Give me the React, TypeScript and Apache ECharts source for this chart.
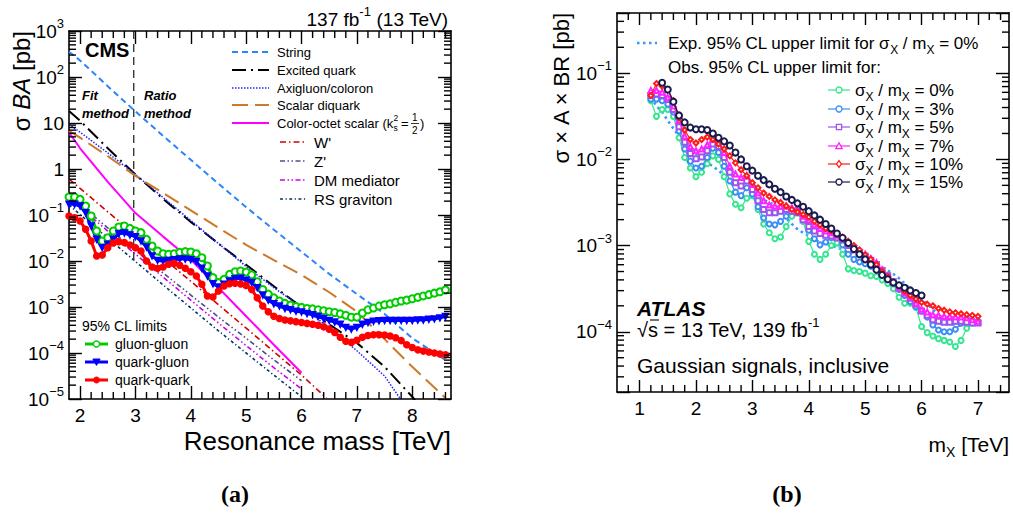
import React, { useEffect, useRef } from "react";
import * as echarts from "echarts";

const FONT = '"Liberation Sans", Arial, Helvetica, sans-serif';
const SERIF = '"Liberation Serif", "DejaVu Serif", serif';

// ---------------- Left panel (CMS) ----------------
const CMS_X_TICKS = [2, 3, 4, 5, 6, 7, 8];
const CMS_MASS = [1.8, 1.9, 2.0, 2.1, 2.2, 2.3, 2.4, 2.5, 2.6, 2.7, 2.8, 2.9, 3.0, 3.1, 3.2, 3.3, 3.4, 3.5, 3.6, 3.7, 3.8, 3.9, 4.0, 4.1, 4.2, 4.3, 4.4, 4.5, 4.6, 4.7, 4.8, 4.9, 5.0, 5.1, 5.2, 5.3, 5.4, 5.5, 5.6, 5.7, 5.8, 5.9, 6.0, 6.1, 6.2, 6.3, 6.4, 6.5, 6.6, 6.7, 6.8, 6.9, 7.0, 7.1, 7.2, 7.3, 7.4, 7.5, 7.6, 7.7, 7.8, 7.9, 8.0, 8.1, 8.2, 8.3, 8.4, 8.5, 8.6];
const GLUON_GLUON = [0.246, 0.246, 0.219, 0.157, 0.0951, 0.0449, 0.0272, 0.0321, 0.0449, 0.0548, 0.0577, 0.0513, 0.0449, 0.0413, 0.0296, 0.0212, 0.0165, 0.0144, 0.014, 0.0144, 0.0154, 0.016, 0.0157, 0.0144, 0.0118, 0.00778, 0.00435, 0.00338, 0.00399, 0.00513, 0.00586, 0.00607, 0.00575, 0.005, 0.00355, 0.0024, 0.00191, 0.00158, 0.00135, 0.0012, 0.0011, 0.00102, 0.00098, 0.00093, 0.00091, 0.00087, 0.00083, 0.00079, 0.00076, 0.00071, 0.00066, 0.0006, 0.0006, 0.00074, 0.00087, 0.00095, 0.00105, 0.00112, 0.00117, 0.00126, 0.00135, 0.00141, 0.00151, 0.00162, 0.00174, 0.00186, 0.002, 0.00214, 0.00234];
const QUARK_GLUON = [0.171, 0.171, 0.157, 0.112, 0.0577, 0.0296, 0.0195, 0.023, 0.0296, 0.0393, 0.0406, 0.0367, 0.0338, 0.0272, 0.0201, 0.0129, 0.0103, 0.01, 0.0102, 0.0107, 0.011, 0.011, 0.0107, 0.0097, 0.00693, 0.00472, 0.00321, 0.00272, 0.00311, 0.00367, 0.00413, 0.0042, 0.0038, 0.00339, 0.00263, 0.00182, 0.00141, 0.00117, 0.00105, 0.00093, 0.00087, 0.00081, 0.00078, 0.00072, 0.00068, 0.00062, 0.00056, 0.00051, 0.00047, 0.00042, 0.00036, 0.00033, 0.00036, 0.00042, 0.00046, 0.00049, 0.0005, 0.00051, 0.00051, 0.00051, 0.00051, 0.00051, 0.00051, 0.00052, 0.00052, 0.00054, 0.00055, 0.00058, 0.00062];
const QUARK_QUARK = [0.0951, 0.0875, 0.0741, 0.0488, 0.0272, 0.0129, 0.0135, 0.0195, 0.0246, 0.0263, 0.0251, 0.0223, 0.0195, 0.0165, 0.01, 0.00741, 0.00693, 0.00741, 0.00847, 0.00889, 0.00805, 0.00693, 0.00586, 0.00472, 0.00311, 0.00173, 0.00165, 0.00223, 0.00286, 0.00321, 0.00327, 0.00316, 0.00295, 0.0024, 0.00158, 0.00105, 0.00079, 0.00063, 0.00056, 0.00052, 0.0005, 0.00048, 0.00046, 0.00044, 0.00042, 0.0004, 0.00037, 0.00033, 0.00028, 0.00022, 0.00018, 0.00017, 0.00019, 0.00022, 0.00024, 0.00025, 0.00025, 0.000245, 0.000234, 0.000214, 0.000186, 0.000151, 0.000132, 0.000117, 0.00011, 0.000105, 0.0001, 0.0000955, 0.0000912];

const STRING_MASS = [1.8, 2, 2.5, 3, 3.5, 4, 4.5, 5, 5.5, 6, 6.5, 7, 7.5, 8, 8.6];
const STRING_XS = [355, 229, 63.1, 17.8, 5.25, 1.58, 0.479, 0.148, 0.0479, 0.0158, 0.00525, 0.00191, 0.000708, 0.000209, 0.0000708];
const EXCITED_MASS = [1.8, 2, 2.5, 3, 3.5, 4, 4.5, 5, 5.5, 6, 6.5, 7, 7.5, 8, 8.05];
const EXCITED_XS = [18.2, 11.2, 2.82, 0.759, 0.224, 0.0708, 0.024, 0.00832, 0.00282, 0.001, 0.000417, 0.000166, 0.0000501, 0.0000112, 0.0000095];
const AXIGLUON_MASS = [1.8, 2, 2.5, 3, 3.5, 4, 4.5, 5, 5.5, 6, 6.5, 7, 7.5, 7.8];
const AXIGLUON_XS = [9.33, 6.31, 2.24, 0.759, 0.24, 0.0759, 0.024, 0.00759, 0.00263, 0.001, 0.000355, 0.000112, 0.0000316, 0.0000095];
const DIQUARK_MASS = [1.8, 2, 2.5, 3, 3.5, 4, 4.5, 5, 5.5, 6, 6.5, 7, 7.5, 8, 8.6];
const DIQUARK_XS = [6.76, 4.79, 1.91, 0.708, 0.302, 0.126, 0.0525, 0.0224, 0.0105, 0.00501, 0.00209, 0.000794, 0.0002, 0.0000501, 0.0000105];
const OCTET_MASS = [1.8, 2, 2.5, 3, 3.5, 4, 4.5, 5, 5.5, 6];
const OCTET_XS = [6.31, 2.82, 0.525, 0.11, 0.0339, 0.0107, 0.00263, 0.000631, 0.000151, 0.0000372];
const WPRIME_MASS = [1.8, 2, 2.5, 3, 3.5, 4, 4.5, 5, 5.5, 6, 6.45];
const WPRIME_XS = [0.603, 0.38, 0.117, 0.0372, 0.0115, 0.00363, 0.00112, 0.000347, 0.000107, 0.0000331, 0.0000105];
const ZPRIME_MASS = [1.8, 2, 2.5, 3, 3.5, 4, 4.5, 5, 5.5, 6];
const ZPRIME_XS = [0.263, 0.166, 0.0525, 0.017, 0.0055, 0.00182, 0.000603, 0.000209, 0.0000708, 0.0000251];
const DM_MASS = [1.8, 2, 2.5, 3, 3.5, 4, 4.5, 5, 5.5, 6];
const DM_XS = [0.24, 0.148, 0.0447, 0.0141, 0.00447, 0.00141, 0.000447, 0.000145, 0.0000479, 0.0000166];
const RS_MASS = [1.8, 2, 2.5, 3, 3.5, 4, 4.5, 5, 5.5, 6];
const RS_XS = [0.166, 0.102, 0.0316, 0.00977, 0.00302, 0.000955, 0.000302, 0.0001, 0.0000331, 0.0000112];
const METHOD_BOUNDARY_MASS = [2.97, 2.97];
const METHOD_BOUNDARY_XS = [1000, 0.01];

// ---------------- Right panel (ATLAS) ----------------
const ATLAS_X_TICKS = [1, 2, 3, 4, 5, 6, 7];
const ATLAS_MASS = [1.2, 1.3, 1.4, 1.5, 1.6, 1.7, 1.8, 1.9, 2.0, 2.1, 2.2, 2.3, 2.4, 2.5, 2.6, 2.7, 2.8, 2.9, 3.0, 3.1, 3.2, 3.3, 3.4, 3.5, 3.6, 3.7, 3.8, 3.9, 4.0, 4.1, 4.2, 4.3, 4.4, 4.5, 4.6, 4.7, 4.8, 4.9, 5.0, 5.1, 5.2, 5.3, 5.4, 5.5, 5.6, 5.7, 5.8, 5.9, 6.0, 6.1, 6.2, 6.3, 6.4, 6.5, 6.6, 6.7, 6.8, 6.9, 7.0];
const ATLAS_MASS_15 = [1.4, 1.5, 1.6, 1.7, 1.8, 1.9, 2.0, 2.1, 2.2, 2.3, 2.4, 2.5, 2.6, 2.7, 2.8, 2.9, 3.0, 3.1, 3.2, 3.3, 3.4, 3.5, 3.6, 3.7, 3.8, 3.9, 4.0, 4.1, 4.2, 4.3, 4.4, 4.5, 4.6, 4.7, 4.8, 4.9, 5.0, 5.1, 5.2, 5.3, 5.4, 5.5, 5.6, 5.7, 5.8, 5.9, 6.0];
const EXP_0 = [5.25e-2, 4.17e-2, 3.55e-2, 2.82e-2, 2.29e-2, 1.86e-2, 1.55e-2, 1.35e-2, 1.17e-2, 1.02e-2, 9.12e-3, 8.32e-3, 7.41e-3, 6.61e-3, 5.89e-3, 5.25e-3, 4.79e-3, 4.37e-3, 3.98e-3, 3.63e-3, 3.39e-3, 3.16e-3, 2.95e-3, 2.51e-3, 2.09e-3, 1.78e-3, 1.55e-3, 1.41e-3, 1.29e-3, 1.17e-3, 1.1e-3, 1.05e-3, 1.0e-3, 9.55e-4, 8.91e-4, 8.32e-4, 7.76e-4, 7.41e-4, 6.92e-4, 6.46e-4, 6.03e-4, 5.62e-4, 5.13e-4, 4.68e-4, 4.17e-4, 3.63e-4, 3.16e-4, 2.75e-4, 2.4e-4, 2.09e-4, 1.82e-4, 1.58e-4, 1.38e-4, 1.26e-4, 1.2e-4, 1.17e-4, 1.2e-4, 1.29e-4, 1.38e-4];
const OBS_0 = [4.79e-2, 3.16e-2, 3.8e-2, 3.8e-2, 3.16e-2, 1.78e-2, 1.05e-2, 7.94e-3, 6.31e-3, 7.08e-3, 8.91e-3, 1.1e-2, 1.0e-2, 6.31e-3, 3.98e-3, 3.02e-3, 2.75e-3, 3.55e-3, 3.8e-3, 2.63e-3, 1.78e-3, 1.41e-3, 1.2e-3, 1.26e-3, 1.66e-3, 2.19e-3, 2.4e-3, 1.91e-3, 1.12e-3, 7.94e-4, 6.92e-4, 7.94e-4, 1.0e-3, 1.07e-3, 7.94e-4, 5.37e-4, 5.13e-4, 5.01e-4, 4.79e-4, 4.47e-4, 4.37e-4, 3.98e-4, 3.63e-4, 3.16e-4, 2.51e-4, 2.14e-4, 2.14e-4, 1.91e-4, 1.15e-4, 9.77e-5, 8.91e-5, 8.32e-5, 7.94e-5, 7.59e-5, 6.76e-5, 7.94e-5, 1.1e-4, 1.26e-4, 1.32e-4];
const OBS_3 = [5.01e-2, 5.01e-2, 4.79e-2, 4.37e-2, 3.55e-2, 2.14e-2, 1.32e-2, 9.55e-3, 7.94e-3, 8.32e-3, 1.05e-2, 1.35e-2, 1.2e-2, 8.32e-3, 5.62e-3, 4.17e-3, 3.8e-3, 4.68e-3, 3.98e-3, 2.82e-3, 2.09e-3, 1.78e-3, 1.74e-3, 1.91e-3, 2.19e-3, 2.51e-3, 2.63e-3, 2.19e-3, 1.51e-3, 1.2e-3, 1.02e-3, 1.1e-3, 1.23e-3, 1.29e-3, 1.02e-3, 7.94e-4, 6.92e-4, 6.46e-4, 6.17e-4, 5.75e-4, 5.25e-4, 4.79e-4, 4.17e-4, 3.63e-4, 3.09e-4, 2.63e-4, 2.24e-4, 1.95e-4, 1.74e-4, 1.48e-4, 1.2e-4, 1.05e-4, 1.0e-4, 1.0e-4, 1.07e-4, 1.26e-4, 1.41e-4, 1.35e-4, 1.32e-4];
const OBS_5 = [5.5e-2, 5.75e-2, 5.5e-2, 5.01e-2, 3.8e-2, 2.4e-2, 1.58e-2, 1.17e-2, 1.02e-2, 1.07e-2, 1.26e-2, 1.51e-2, 1.41e-2, 1.05e-2, 7.08e-3, 5.37e-3, 4.9e-3, 5.62e-3, 4.47e-3, 3.31e-3, 2.63e-3, 2.4e-3, 2.4e-3, 2.51e-3, 2.63e-3, 2.51e-3, 2.4e-3, 2.0e-3, 1.66e-3, 1.48e-3, 1.38e-3, 1.32e-3, 1.29e-3, 1.23e-3, 1.17e-3, 1.0e-3, 8.91e-4, 8.13e-4, 7.59e-4, 6.76e-4, 6.03e-4, 5.13e-4, 4.47e-4, 3.8e-4, 3.31e-4, 2.82e-4, 2.45e-4, 2.09e-4, 1.74e-4, 1.55e-4, 1.38e-4, 1.32e-4, 1.29e-4, 1.29e-4, 1.32e-4, 1.32e-4, 1.29e-4, 1.26e-4, 1.26e-4];
const OBS_7 = [6.31e-2, 6.31e-2, 6.03e-2, 5.25e-2, 4.17e-2, 2.82e-2, 1.86e-2, 1.41e-2, 1.26e-2, 1.32e-2, 1.48e-2, 1.7e-2, 1.62e-2, 1.2e-2, 8.32e-3, 6.76e-3, 6.17e-3, 6.46e-3, 5.13e-3, 4.07e-3, 3.31e-3, 2.95e-3, 2.88e-3, 2.88e-3, 2.88e-3, 2.75e-3, 2.63e-3, 2.19e-3, 2.0e-3, 1.74e-3, 1.58e-3, 1.48e-3, 1.41e-3, 1.32e-3, 1.23e-3, 1.1e-3, 9.77e-4, 8.71e-4, 7.94e-4, 7.08e-4, 6.31e-4, 5.25e-4, 4.37e-4, 3.72e-4, 3.24e-4, 2.82e-4, 2.51e-4, 2.14e-4, 1.82e-4, 1.7e-4, 1.58e-4, 1.55e-4, 1.51e-4, 1.51e-4, 1.48e-4, 1.48e-4, 1.45e-4, 1.38e-4, 1.32e-4];
const OBS_10 = [5.5e-2, 7.59e-2, 7.08e-2, 6.46e-2, 4.79e-2, 3.02e-2, 2.19e-2, 1.7e-2, 1.55e-2, 1.7e-2, 1.82e-2, 1.7e-2, 1.51e-2, 1.32e-2, 1.1e-2, 9.12e-3, 7.59e-3, 6.46e-3, 5.37e-3, 4.68e-3, 4.07e-3, 3.72e-3, 3.39e-3, 3.16e-3, 2.88e-3, 2.63e-3, 2.45e-3, 2.29e-3, 2.14e-3, 1.91e-3, 1.74e-3, 1.58e-3, 1.48e-3, 1.35e-3, 1.23e-3, 1.12e-3, 1.0e-3, 8.91e-4, 7.76e-4, 6.92e-4, 6.03e-4, 5.01e-4, 4.37e-4, 3.8e-4, 3.47e-4, 2.95e-4, 2.63e-4, 2.4e-4, 2.19e-4, 2.09e-4, 2.0e-4, 1.86e-4, 1.78e-4, 1.7e-4, 1.66e-4, 1.62e-4, 1.58e-4, 1.55e-4, 1.51e-4];
const OBS_15 = [7.76e-2, 6.46e-2, 4.68e-2, 3.24e-2, 2.69e-2, 2.34e-2, 2.24e-2, 2.24e-2, 2.19e-2, 2.0e-2, 1.78e-2, 1.62e-2, 1.45e-2, 1.2e-2, 1.0e-2, 8.32e-3, 7.41e-3, 6.46e-3, 5.75e-3, 5.13e-3, 4.57e-3, 4.17e-3, 3.72e-3, 3.39e-3, 3.09e-3, 2.82e-3, 2.51e-3, 2.24e-3, 2.0e-3, 1.78e-3, 1.58e-3, 1.38e-3, 1.23e-3, 1.07e-3, 9.12e-4, 7.94e-4, 6.92e-4, 6.03e-4, 5.25e-4, 4.57e-4, 4.07e-4, 3.72e-4, 3.47e-4, 3.24e-4, 3.02e-4, 2.82e-4, 2.63e-4];

// ---------------- helpers ----------------
const zip = (xs: number[], ys: number[]) => ys.map((y, i) => [xs[i], y]);

function linearMinor(min: number, max: number, step: number, majors: number[]) {
  const out: number[] = [];
  for (let i = Math.ceil(min / step - 1e-9); i * step <= max + 1e-9; i++) {
    const v = Math.round(i * step * 1e6) / 1e6;
    if (v <= min + 1e-6 || v >= max - 1e-6) continue;
    if (!majors.some((m) => Math.abs(m - v) < 1e-6)) out.push(v);
  }
  return out;
}
function logMinor(min: number, max: number) {
  const out: number[] = [];
  for (let e = Math.floor(Math.log10(min)) - 1; e <= Math.ceil(Math.log10(max)); e++) {
    for (let k = 2; k <= 9; k++) {
      const v = k * Math.pow(10, e);
      if (v > min * 1.001 && v < max * 0.999) out.push(v);
    }
  }
  return out;
}

const AXIS_RICH = {
  b: { fontSize: 19, fontFamily: FONT, color: "#000", lineHeight: 28, verticalAlign: "middle" },
  sup: { fontSize: 13, fontFamily: FONT, color: "#000", lineHeight: 13, verticalAlign: "top" },
};
const powLabel = (v: number) => {
  const l = Math.log10(v);
  const e = Math.round(l);
  if (Math.abs(l - e) > 1e-6) return "";
  if (e === 0) return "{b|1}";
  if (e === 1) return "{b|10}";
  return `{b|10}{sup|${e < 0 ? "\u2212" + -e : e}}`;
};

const AXL = { color: "#000", width: 1.6 };
const TK = { color: "#000", width: 1.4 };

function xAx(grid: number, pos: string, min: number, max: number, ticks: number[], len: number, labels: boolean) {
  return {
    gridIndex: grid, type: "value", position: pos, min, max,
    axisLine: { show: true, onZero: false, lineStyle: AXL },
    axisTick: { show: true, inside: true, length: len, customValues: ticks, lineStyle: TK },
    axisLabel: labels
      ? { show: true, customValues: ticks, color: "#000", fontSize: 19, fontFamily: FONT, margin: 7 }
      : { show: false },
    splitLine: { show: false },
  };
}
function logY(grid: number, pos: string, min: number, max: number, labels: boolean) {
  return {
    gridIndex: grid, type: "log", logBase: 10, position: pos, min, max,
    axisLine: { show: true, onZero: false, lineStyle: AXL },
    axisTick: { show: true, inside: true, length: 13, lineStyle: TK },
    axisLabel: labels ? { show: true, formatter: powLabel, rich: AXIS_RICH, margin: 5 } : { show: false },
    splitLine: { show: false },
  };
}

// minor ticks drawn through the axes' own scales (custom series)
function minorTickSeries(xi: number, yi: number, xTicks: number[], yTicks: number[], xRef: number, yRef: number, len: number) {
  const data = [...xTicks.map((v) => [v, yRef, 0]), ...yTicks.map((v) => [xRef, v, 1])];
  return {
    type: "custom", name: "minor ticks", xAxisIndex: xi, yAxisIndex: yi, data, silent: true, clip: false, z: 20,
    encode: { x: 0, y: 1 },
    renderItem: (params: any, api: any) => {
      const cs = params.coordSys;
      const p = api.coord([api.value(0), api.value(1)]);
      const st = { stroke: "#000", lineWidth: 1.4 };
      if (api.value(2) === 0) {
        const x = p[0];
        const yb = cs.y + cs.height;
        const yt = cs.y;
        return {
          type: "group",
          children: [
            { type: "line", shape: { x1: x, y1: yb, x2: x, y2: yb - len }, style: st },
            { type: "line", shape: { x1: x, y1: yt, x2: x, y2: yt + len }, style: st },
          ],
        };
      }
      const y = p[1];
      const xl = cs.x;
      const xr = cs.x + cs.width;
      return {
        type: "group",
        children: [
          { type: "line", shape: { x1: xl, y1: y, x2: xl + len, y2: y }, style: st },
          { type: "line", shape: { x1: xr, y1: y, x2: xr - len, y2: y }, style: st },
        ],
      };
    },
  };
}

const gRich = (size: number, small: number) => {
  const lh = Math.round(size * 1.45);
  return {
    n: { fontSize: size, fontFamily: FONT, fill: "#000", lineHeight: lh, verticalAlign: "middle" },
    i: { fontSize: size, fontFamily: FONT, fontStyle: "italic", fill: "#000", lineHeight: lh, verticalAlign: "middle" },
    sup: { fontSize: small, fontFamily: FONT, fill: "#000", lineHeight: small, verticalAlign: "top" },
    sub: { fontSize: small, fontFamily: FONT, fill: "#000", lineHeight: small, verticalAlign: "bottom" },
  };
};

function T(x: number, y: number, text: string, o: any = {}) {
  return {
    type: "text", x, y, rotation: o.rotation || 0, silent: true, z: 50,
    style: {
      text, fill: o.color || "#000", fontSize: o.size || 14, fontFamily: o.family || FONT,
      fontWeight: o.weight || "normal", fontStyle: o.style || "normal",
      align: o.align || "left", textAlign: o.align || "left",
      verticalAlign: "middle", textVerticalAlign: "middle",
      rich: o.rich,
    },
  };
}
function L(x1: number, y1: number, x2: number, y2: number, color: string, width: number, dash?: number[]) {
  return { type: "line", silent: true, z: 50, shape: { x1, y1, x2, y2 }, style: { stroke: color, lineWidth: width, lineDash: dash || null } };
}
function marker(kind: string, cx: number, cy: number, color: string, filled: boolean) {
  const style = { fill: filled ? color : "#fff", stroke: color, lineWidth: filled ? 1 : 1.3 };
  if (kind === "circle") return { type: "circle", z: 51, silent: true, shape: { cx, cy, r: 3 }, style };
  if (kind === "rect") return { type: "rect", z: 51, silent: true, shape: { x: cx - 2.6, y: cy - 2.6, width: 5.2, height: 5.2 }, style };
  if (kind === "tri") return { type: "polygon", z: 51, silent: true, shape: { points: [[cx - 3.2, cy + 2.6], [cx + 3.2, cy + 2.6], [cx, cy - 3.2]] }, style };
  if (kind === "triDown") return { type: "polygon", z: 51, silent: true, shape: { points: [[cx - 3.6, cy - 3], [cx + 3.6, cy - 3], [cx, cy + 3.4]] }, style };
  return { type: "polygon", z: 51, silent: true, shape: { points: [[cx, cy - 3.4], [cx + 2.4, cy], [cx, cy + 3.4], [cx - 2.4, cy]] }, style };
}

// styles
const THEORY_STYLES = [
  { name: "String", mass: STRING_MASS, xs: STRING_XS, color: "#2b84ff", dash: [6, 4], width: 2 },
  { name: "Excited quark", mass: EXCITED_MASS, xs: EXCITED_XS, color: "#000000", dash: [14, 5, 2, 5], width: 2 },
  { name: "Axigluon/coloron", mass: AXIGLUON_MASS, xs: AXIGLUON_XS, color: "#2222ff", dash: [1.5, 1.5], width: 1.5 },
  { name: "Scalar diquark", mass: DIQUARK_MASS, xs: DIQUARK_XS, color: "#cc7a29", dash: [16, 7], width: 2 },
  { name: "Color-octet scalar", mass: OCTET_MASS, xs: OCTET_XS, color: "#ff00ff", dash: "solid", width: 2 },
  { name: "W'", mass: WPRIME_MASS, xs: WPRIME_XS, color: "#d40000", dash: [6, 3, 1.5, 3], width: 1.6 },
  { name: "Z'", mass: ZPRIME_MASS, xs: ZPRIME_XS, color: "#4d4d85", dash: [5, 2.5, 1.5, 2.5, 1.5, 2.5], width: 1.6 },
  { name: "DM mediator", mass: DM_MASS, xs: DM_XS, color: "#cc00ee", dash: [5, 2.5, 1.5, 2.5, 1.5, 2.5], width: 1.6 },
  { name: "RS graviton", mass: RS_MASS, xs: RS_XS, color: "#003366", dash: [3, 2.5, 1.2, 2.5], width: 1.6 },
];
const LIMIT_STYLES = [
  { name: "gluon-gluon", data: GLUON_GLUON, color: "#00cc00", symbol: "emptyCircle", size: 7, rotate: 0, mk: "circle", filled: false },
  { name: "quark-gluon", data: QUARK_GLUON, color: "#0000ff", symbol: "triangle", size: 6, rotate: 180, mk: "triDown", filled: true },
  { name: "quark-quark", data: QUARK_QUARK, color: "#ff0000", symbol: "circle", size: 6, rotate: 0, mk: "circle", filled: true },
];
const OBS_STYLES = [
  { label: "0%", mass: ATLAS_MASS, data: OBS_0, color: "#33e68f", symbol: "emptyCircle", mk: "circle", filled: false },
  { label: "3%", mass: ATLAS_MASS, data: OBS_3, color: "#3a8ef6", symbol: "emptyCircle", mk: "circle", filled: false },
  { label: "5%", mass: ATLAS_MASS, data: OBS_5, color: "#9955ee", symbol: "emptyRect", mk: "rect", filled: false },
  { label: "7%", mass: ATLAS_MASS, data: OBS_7, color: "#ff22ff", symbol: "emptyTriangle", mk: "tri", filled: false },
  { label: "10%", mass: ATLAS_MASS, data: OBS_10, color: "#ff1a1a", symbol: "emptyDiamond", mk: "diamond", filled: false },
  { label: "15%", mass: ATLAS_MASS_15, data: OBS_15, color: "#1a1a4d", symbol: "emptyCircle", mk: "circle", filled: false },
];

function buildOption() {
  const LX = [1.8, 8.7];
  const LY = [1e-5, 1e3];
  const RX = [0.6, 7.55];
  const RY = [2e-5, 0.5];

  const series: any[] = [];
  THEORY_STYLES.forEach((s) => {
    series.push({
      type: "line", name: s.name, xAxisIndex: 0, yAxisIndex: 0, data: zip(s.mass, s.xs),
      symbol: "none", clip: true, silent: true, z: 3,
      lineStyle: { color: s.color, width: s.width, type: s.dash },
    });
  });
  series.push({
    type: "line", name: "boundary", xAxisIndex: 0, yAxisIndex: 0,
    data: zip(METHOD_BOUNDARY_MASS, METHOD_BOUNDARY_XS), symbol: "none", silent: true, z: 2,
    lineStyle: { color: "#000", width: 1.1, type: [8, 5] },
  });
  LIMIT_STYLES.forEach((s) => {
    series.push({
      type: "line", name: s.name, xAxisIndex: 0, yAxisIndex: 0, data: zip(CMS_MASS, s.data),
      symbol: s.symbol, symbolSize: s.size, symbolRotate: s.rotate, showAllSymbol: true, clip: true, silent: true, z: 5,
      lineStyle: { color: s.color, width: 3 }, itemStyle: { color: s.color, borderColor: s.color, borderWidth: 1.5 },
    });
  });
  series.push({
    type: "line", name: "Expected", xAxisIndex: 2, yAxisIndex: 2, data: zip(ATLAS_MASS, EXP_0),
    symbol: "none", silent: true, z: 3, lineStyle: { color: "#3399ff", width: 2.6, type: [2.5, 3.5] },
  });
  OBS_STYLES.forEach((s, i) => {
    series.push({
      type: "line", name: s.label, xAxisIndex: 2, yAxisIndex: 2, data: zip(s.mass, s.data),
      symbol: s.symbol, symbolSize: i === 5 ? 6 : 5, showAllSymbol: true, silent: true, z: 4 + i,
      lineStyle: { color: s.color, width: 1.2 }, itemStyle: { color: s.color, borderColor: s.color, borderWidth: i === 5 ? 1.8 : 1 },
    });
  });
  series.push(minorTickSeries(0, 0, linearMinor(LX[0], LX[1], 0.2, CMS_X_TICKS), logMinor(LY[0], LY[1]), 3, 1, 7));
  series.push(minorTickSeries(2, 2, linearMinor(RX[0], RX[1], 0.2, ATLAS_X_TICKS), logMinor(RY[0], RY[1]), 3, 0.01, 7));

  const g: any[] = [];
  // left panel texts
  g.push(T(448, 19, "{n|137 fb}{sup|-1}{n| (13 TeV)}", { align: "right", rich: gRich(19, 13) }));
  g.push(T(85, 50, "CMS", { size: 20, weight: "bold" }));
  g.push(T(82, 95, "Fit", { size: 13, weight: "bold", style: "italic" }));
  g.push(T(82, 113, "method", { size: 13, weight: "bold", style: "italic" }));
  g.push(T(144, 95, "Ratio", { size: 13, weight: "bold", style: "italic" }));
  g.push(T(144, 113, "method", { size: 13, weight: "bold", style: "italic" }));
  g.push(T(451, 441, "Resonance mass [TeV]", { size: 26, align: "right" }));
  g.push(T(21, 31, "{n|\u03c3 }{i|BA}{n| [pb]}", { rotation: Math.PI / 2, align: "right", rich: gRich(24, 14) }));

  const rows1 = [52, 70, 88, 105, 123];
  THEORY_STYLES.slice(0, 5).forEach((s, i) => {
    g.push(L(232, rows1[i], 269, rows1[i], s.color, s.width, Array.isArray(s.dash) ? s.dash : undefined));
    if (i < 4) g.push(T(277, rows1[i], s.name, { size: 13 }));
  });
  g.push(T(277, 123, "Color-octet scalar (k", { size: 13 }));
  g.push(T(393.5, 118, "2", { size: 8.5 }));
  g.push(T(393.5, 128, "s", { size: 8.5 }));
  g.push(T(401, 123, "=", { size: 13 }));
  g.push(T(412, 117, "1", { size: 10 }));
  g.push(L(411, 123.5, 419, 123.5, "#000", 0.8));
  g.push(T(412, 130, "2", { size: 10 }));
  g.push(T(420, 123, ")", { size: 13 }));
  const rows2 = [142, 161, 180, 199];
  THEORY_STYLES.slice(5).forEach((s, i) => {
    g.push(L(280, rows2[i], 307, rows2[i], s.color, s.width, s.dash as number[]));
    g.push(T(314, rows2[i], s.name, { size: 15 }));
  });
  g.push(T(82, 326, "95% CL limits", { size: 14 }));
  const rows3 = [344, 362, 380];
  LIMIT_STYLES.forEach((s, i) => {
    g.push(L(85, rows3[i], 108, rows3[i], s.color, 3));
    g.push(marker(s.mk, 96.5, rows3[i], s.color, s.filled));
    g.push(T(115, rows3[i], s.name, { size: 14 }));
  });

  // right panel texts
  g.push(T(561, 13, "{n|\u03c3 \u00d7 A \u00d7 BR [pb]}", { rotation: Math.PI / 2, align: "right", rich: gRich(22, 14) }));
  g.push(T(1009, 444, "{n|m}{sub|X}{n| [TeV]}", { align: "right", rich: gRich(21, 14) }));
  g.push(L(637, 43, 657, 43, "#3399ff", 2.6, [2.5, 3.5]));
  g.push(T(668, 43, "{n|Exp. 95% CL upper limit for \u03c3}{sub|X}{n| / m}{sub|X}{n| = 0%}", { rich: gRich(17, 12) }));
  g.push(T(668, 67, "Obs. 95% CL upper limit for:", { size: 17 }));
  const rows4 = [90, 109, 127, 146, 164, 182];
  OBS_STYLES.forEach((s, i) => {
    g.push(L(828, rows4[i], 850, rows4[i], s.color, 1.2));
    g.push(marker(s.mk, 839, rows4[i], s.color, s.filled));
    g.push(T(855, rows4[i], `{n|\u03c3}{sub|X}{n| / m}{sub|X}{n| = ${s.label}}`, { rich: gRich(17, 12) }));
  });
  g.push(T(637, 308, "ATLAS", { size: 21, weight: "bold", style: "italic" }));
  g.push(T(637, 330, "{n|\u221as = 13 TeV, 139 fb}{sup|-1}", { rich: gRich(20, 13) }));
  g.push(L(650, 320, 659, 320, "#000", 1.1));
  g.push(T(637, 365, "Gaussian signals, inclusive", { size: 21 }));

  // captions
  g.push(T(235, 494, "(a)", { size: 24, weight: "bold", family: SERIF, align: "center" }));
  g.push(T(787, 494, "(b)", { size: 24, weight: "bold", family: SERIF, align: "center" }));

  return {
    animation: false,
    backgroundColor: "#ffffff",
    textStyle: { fontFamily: FONT },
    grid: [
      { left: 69, top: 31, width: 382, height: 368 },
      { left: 617, top: 13, width: 392, height: 379 },
    ],
    xAxis: [
      xAx(0, "bottom", LX[0], LX[1], CMS_X_TICKS, 13, true),
      xAx(0, "top", LX[0], LX[1], CMS_X_TICKS, 13, false),
      xAx(1, "bottom", RX[0], RX[1], ATLAS_X_TICKS, 12, true),
      xAx(1, "top", RX[0], RX[1], ATLAS_X_TICKS, 12, false),
    ],
    yAxis: [
      logY(0, "left", LY[0], LY[1], true),
      logY(0, "right", LY[0], LY[1], false),
      logY(1, "left", RY[0], RY[1], true),
      logY(1, "right", RY[0], RY[1], false),
    ],
    series,
    graphic: { elements: g },
  };
}

export default function App() {
  const ref = useRef<HTMLDivElement>(null);
  useEffect(() => {
    const chart = echarts.init(ref.current as HTMLDivElement, undefined, { renderer: "svg" });
    chart.setOption(buildOption() as any);
    return () => chart.dispose();
  }, []);
  return (
    <div
      ref={ref}
      style={{ position: "absolute", left: 0, top: 0, width: 1013, height: 517, background: "#fff" }}
    />
  );
}
